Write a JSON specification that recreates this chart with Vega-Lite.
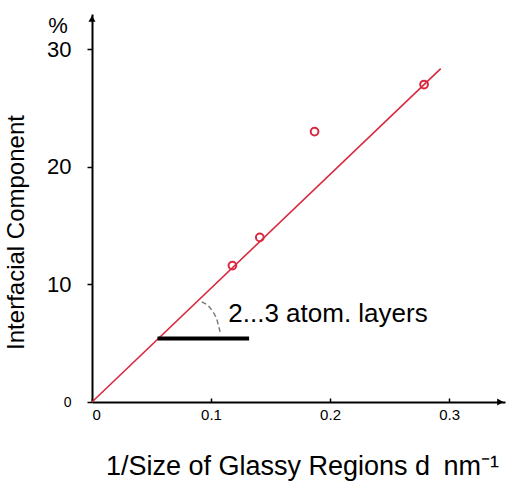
{
  "$schema": "https://vega.github.io/schema/vega-lite/v6.json",
  "width": 413,
  "height": 388,
  "autosize": {"type": "none"},
  "padding": {"left": 92, "top": 14, "right": 1, "bottom": 80},
  "background": "white",
  "config": {
    "view": {"stroke": null},
    "font": "Liberation Sans"
  },
  "datasets": {
    "fit": [{"x": 0, "y": 0}, {"x": 0.293, "y": 28.35}],
    "pts": [
      {"x": 0.118, "y": 11.6},
      {"x": 0.141, "y": 14.0},
      {"x": 0.187, "y": 23.0},
      {"x": 0.279, "y": 27.0}
    ],
    "bar": [{"x": 0.055, "x2": 0.132, "y": 5.4}],
    "arc": [
      {"x": 0.0922, "y": 8.52, "o": 1},
      {"x": 0.1006, "y": 7.82, "o": 2},
      {"x": 0.105, "y": 6.97, "o": 3},
      {"x": 0.1076, "y": 5.97, "o": 4}
    ],
    "label": [{"x": 0.1145, "y": 7.5, "t": "2...3 atom. layers"}],
    "pct": [{"x": 0, "y": 32.0, "t": "%"}],
    "arrows": [
      {"x": 0, "y": 32.6, "s": "triangle-up"},
      {"x": 0.343, "y": 0, "s": "triangle-right"}
    ]
  },
  "layer": [
    {
      "data": {"name": "fit"},
      "mark": {"type": "line", "color": "#d9283f", "strokeWidth": 1.6},
      "encoding": {
        "x": {
          "field": "x", "type": "quantitative",
          "scale": {"domain": [0, 0.347], "nice": false},
          "axis": {
            "values": [0, 0.1, 0.2, 0.3],
            "format": ".1~f",
            "grid": false,
            "domainColor": "black", "domainWidth": 2,
            "tickColor": "black", "tickSize": -4, "tickWidth": 1.5,
            "labelFont": "Liberation Sans",
            "labelFontSize": 15, "labelColor": "black", "labelPadding": 9,
            "title": "1/Size of Glassy Regions d\u2002nm⁻¹",
            "titleFont": "Liberation Sans",
            "titleFontSize": 27, "titleFontWeight": "normal", "titleColor": "black",
            "titleX": 210, "titleY": 72, "titleBaseline": "alphabetic"
          }
        },
        "y": {
          "field": "y", "type": "quantitative",
          "scale": {"domain": [0, 33], "nice": false},
          "axis": {
            "values": [0, 10, 20, 30],
            "grid": false,
            "domainColor": "black", "domainWidth": 2,
            "tickColor": "black", "tickSize": 5, "tickWidth": 1.5,
            "labelFont": "Liberation Sans",
            "labelFontSize": {"condition": {"test": "datum.value == 0", "value": 14}, "value": 22},
            "labelColor": "black", "labelPadding": 16,
            "title": "Interfacial Component",
            "titleFont": "Liberation Sans",
            "titleFontSize": 24, "titleFontWeight": "normal", "titleColor": "black",
            "titleX": -64, "titleY": 218, "titleAngle": -90
          }
        }
      }
    },
    {
      "data": {"name": "pts"},
      "mark": {"type": "point", "shape": "circle", "filled": false, "color": "#d9283f", "size": 60, "strokeWidth": 2, "opacity": 1},
      "encoding": {
        "x": {"field": "x", "type": "quantitative"},
        "y": {"field": "y", "type": "quantitative"}
      }
    },
    {
      "data": {"name": "bar"},
      "mark": {"type": "rule", "color": "black", "strokeWidth": 4},
      "encoding": {
        "x": {"field": "x", "type": "quantitative"},
        "x2": {"field": "x2"},
        "y": {"field": "y", "type": "quantitative"}
      }
    },
    {
      "data": {"name": "arc"},
      "mark": {"type": "line", "color": "#777777", "strokeWidth": 1.4, "strokeDash": [5, 3], "interpolate": "monotone"},
      "encoding": {
        "x": {"field": "x", "type": "quantitative"},
        "y": {"field": "y", "type": "quantitative"},
        "order": {"field": "o"}
      }
    },
    {
      "data": {"name": "label"},
      "mark": {"type": "text", "align": "left", "baseline": "middle", "fontSize": 26, "font": "Liberation Sans", "color": "black"},
      "encoding": {
        "x": {"field": "x", "type": "quantitative"},
        "y": {"field": "y", "type": "quantitative"},
        "text": {"field": "t"}
      }
    },
    {
      "data": {"name": "pct"},
      "mark": {"type": "text", "align": "center", "baseline": "middle", "fontSize": 22, "font": "Liberation Sans", "color": "black", "dx": -34, "clip": false},
      "encoding": {
        "x": {"field": "x", "type": "quantitative"},
        "y": {"field": "y", "type": "quantitative"},
        "text": {"field": "t"}
      }
    },
    {
      "data": {"name": "arrows"},
      "mark": {"type": "point", "filled": true, "color": "black", "size": 50, "opacity": 1, "clip": false},
      "encoding": {
        "x": {"field": "x", "type": "quantitative"},
        "y": {"field": "y", "type": "quantitative"},
        "shape": {"field": "s", "type": "nominal", "scale": null}
      }
    }
  ]
}
